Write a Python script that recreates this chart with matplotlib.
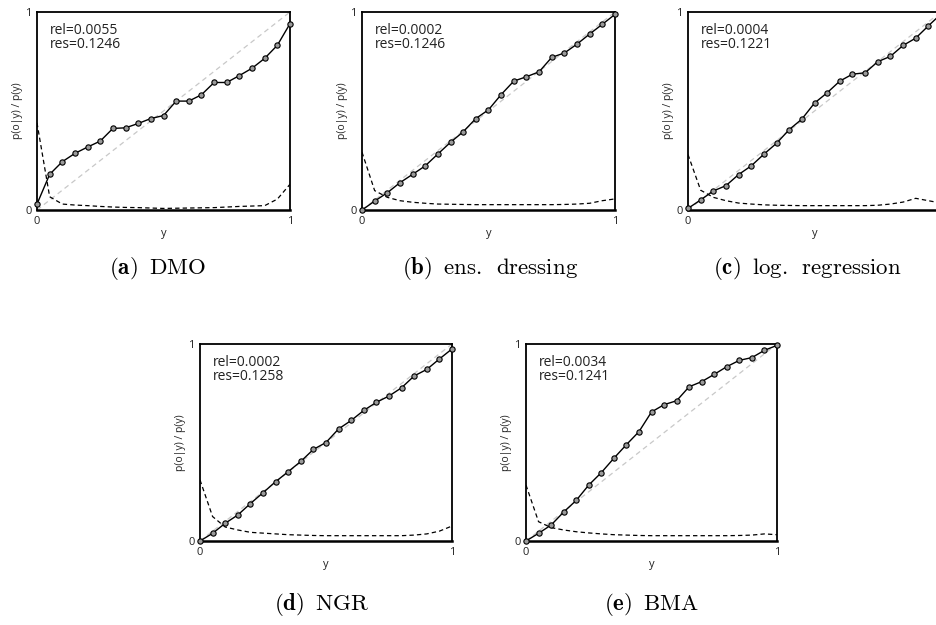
import numpy as np
import matplotlib
matplotlib.use("Agg")
import matplotlib.pyplot as plt

plt.rcParams['font.family'] = ['Open Sans', 'DejaVu Sans']
plt.rcParams['mathtext.fontset'] = 'cm'

x_bins = [0.00, 0.05, 0.10, 0.15, 0.20, 0.25, 0.30, 0.35, 0.40, 0.45, 0.50,
          0.55, 0.60, 0.65, 0.70, 0.75, 0.80, 0.85, 0.90, 0.95, 1.00]

# observed frequency p(o|y) per forecast bin
dmo_rel = [0.03, 0.18, 0.244, 0.286, 0.318, 0.348, 0.412, 0.415, 0.437, 0.462, 0.477,
           0.55, 0.55, 0.582, 0.644, 0.644, 0.679, 0.716, 0.766, 0.832, 0.941]
ens_rel = [0.0, 0.045, 0.087, 0.138, 0.180, 0.223, 0.283, 0.342, 0.395, 0.462, 0.506,
           0.583, 0.651, 0.673, 0.698, 0.771, 0.793, 0.838, 0.889, 0.938, 0.988]
log_rel = [0.008, 0.051, 0.096, 0.123, 0.179, 0.223, 0.282, 0.337, 0.406, 0.459, 0.54,
           0.592, 0.651, 0.686, 0.693, 0.749, 0.776, 0.831, 0.868, 0.93, 0.99]
ngr_rel = [0.0, 0.039, 0.09, 0.132, 0.19, 0.245, 0.301, 0.352, 0.404, 0.465, 0.50,
           0.569, 0.612, 0.663, 0.704, 0.736, 0.778, 0.838, 0.871, 0.924, 0.975]
bma_rel = [0.0, 0.039, 0.081, 0.147, 0.206, 0.284, 0.347, 0.42, 0.489, 0.555, 0.655,
           0.692, 0.712, 0.783, 0.809, 0.846, 0.885, 0.917, 0.931, 0.968, 0.993]

# forecast frequency p(y) per bin (dashed)
dmo_freq = [0.44, 0.067, 0.03, 0.025, 0.022, 0.018, 0.015, 0.013, 0.012, 0.010, 0.008,
            0.009, 0.010, 0.011, 0.012, 0.015, 0.018, 0.020, 0.022, 0.055, 0.13]
ens_freq = [0.292, 0.098, 0.064, 0.047, 0.039, 0.034, 0.030, 0.029, 0.028, 0.027, 0.027,
            0.027, 0.027, 0.027, 0.027, 0.027, 0.028, 0.030, 0.034, 0.047, 0.056]
log_freq = [0.28, 0.10, 0.064, 0.047, 0.035, 0.030, 0.026, 0.024, 0.023, 0.022, 0.022,
            0.022, 0.022, 0.022, 0.022, 0.024, 0.030, 0.040, 0.059, 0.047, 0.035]
ngr_freq = [0.31, 0.124, 0.071, 0.056, 0.044, 0.040, 0.036, 0.032, 0.030, 0.028, 0.027,
            0.027, 0.027, 0.027, 0.027, 0.027, 0.027, 0.030, 0.036, 0.05, 0.076]
bma_freq = [0.284, 0.098, 0.068, 0.056, 0.047, 0.041, 0.036, 0.032, 0.030, 0.028, 0.027,
            0.027, 0.027, 0.027, 0.027, 0.027, 0.027, 0.028, 0.030, 0.036, 0.032]

rel_scores = ["0.0055", "0.0002", "0.0004", "0.0002", "0.0034"]
res_scores = ["0.1246", "0.1246", "0.1221", "0.1258", "0.1241"]
caption_tags = ["(a)", "(b)", "(c)", "(d)", "(e)"]
caption_names = ["DMO", "ens. dressing", "log. regression", "NGR", "BMA"]
tick_vals = [0, 1]
tick_labels = ["0", "1"]

rels = [dmo_rel, ens_rel, log_rel, ngr_rel, bma_rel]
freqs = [dmo_freq, ens_freq, log_freq, ngr_freq, bma_freq]

W, H = 937, 625
fig = plt.figure(figsize=(W / 100, H / 100), dpi=100)

# axes boxes in pixels: left, top, right, bottom
boxes = [(37, 12, 290, 210), (362, 12, 615, 210), (688, 12, 941, 210),
         (200, 344, 452, 541), (526, 344, 777, 541)]
captions_xy = [(158, 268), (490, 268), (807, 268), (322, 604), (652, 604)]

for i in range(5):
    l, t, r, b = boxes[i]
    ax = fig.add_axes([l / W, 1 - b / H, (r - l) / W, (b - t) / H])
    ax.plot([0, 1], [0, 1], color='#c8c8c8', lw=0.9, ls=(0, (4, 3)), zorder=1)
    ax.plot(x_bins, freqs[i], color='black', lw=0.9, ls=(0, (3.5, 2.5)), zorder=2)
    ax.plot(x_bins, rels[i], color='black', lw=1.0, marker='o', ms=3.8,
            mfc='#9a9a9a', mec='black', mew=0.8, zorder=3, clip_on=False)
    ax.set_xlim(0, 1)
    ax.set_ylim(0, 1)
    ax.set_xticks(tick_vals)
    ax.set_xticklabels(tick_labels)
    ax.set_yticks(tick_vals)
    ax.set_yticklabels(tick_labels)
    ax.tick_params(length=0, labelsize=8, pad=4, colors='#222222')
    if r > W:
        # the right-hand "1" of this panel falls outside the page, as in the reference
        ax.get_xticklabels()[-1].set_visible(False)
    for side, sp in ax.spines.items():
        sp.set_linewidth(1.3)
        sp.set_color('black')
    ax.spines['bottom'].set_linewidth(1.8)
    ax.set_xlabel('y', fontsize=8, labelpad=1, color='#222222')
    ax.set_ylabel('p(o|y) / p(y)', fontsize=7.5, labelpad=1.5, color='#222222')
    ax.text(0.05, 0.945, f"rel={rel_scores[i]}\nres={res_scores[i]}",
            transform=ax.transAxes, ha='left', va='top', fontsize=10,
            linespacing=0.92, color='#222222')
    cx, cy = captions_xy[i]
    name = caption_names[i].replace(' ', r'\ \,')
    fig.text(cx / W, 1 - cy / H,
             r"$\mathbf{" + caption_tags[i] + r"}\;\;\mathrm{" + name + "}$",
             ha='center', va='center', fontsize=16.5)

fig.savefig('out.png', dpi=100)
